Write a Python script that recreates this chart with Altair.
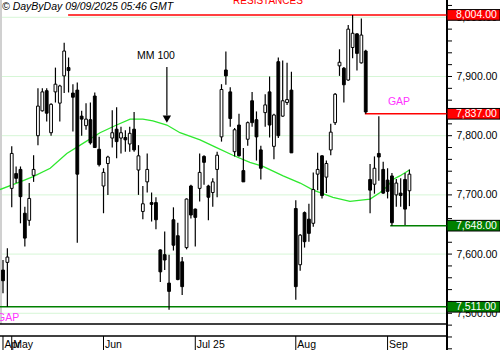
import altair as alt
import pandas as pd

# ---- data (CAC 40 style daily candles, 29 Apr -> 8 Sep 2025) ----
open_ = [7573, 7586, 7711, 7736, 7743, 7669, 7657, 7733, 7800, 7842,
         7876, 7805, 7874, 7855, 7901, 7915, 7872, 7877, 7833, 7817,
         7827, 7867, 7777, 7715, 7753, 7796, 7811, 7796, 7797, 7786,
         7811, 7742, 7672, 7722, 7687, 7687, 7607, 7599, 7551, 7658,
         7631, 7587, 7611, 7715, 7676, 7711, 7765, 7715, 7704, 7743,
         7798, 7911, 7874, 7773, 7818, 7741, 7794, 7859, 7827, 7776,
         7839, 7874, 7782, 7925, 7833, 7856, 7877, 7677, 7582, 7670,
         7659, 7652, 7735, 7766, 7730, 7776, 7822, 7918, 7914, 7894,
         7949, 7972, 7923, 7943, 7726, 7718, 7770, 7743, 7725, 7732,
         7700, 7703, 7726, 7707]
high = [7590, 7610, 7782, 7748, 7748, 7680, 7720, 7767, 7880, 7880,
        7880, 7855, 7915, 7886, 7957, 7932, 7887, 7890, 7842, 7855,
        7856, 7873, 7798, 7745, 7766, 7843, 7848, 7815, 7809, 7815,
        7840, 7784, 7715, 7770, 7704, 7696, 7608, 7638, 7599, 7679,
        7653, 7595, 7694, 7717, 7677, 7770, 7767, 7717, 7728, 7773,
        7887, 7942, 7882, 7813, 7837, 7779, 7824, 7874, 7841, 7783,
        7870, 7900, 7837, 7932, 7927, 7923, 7908, 7691, 7634, 7672,
        7685, 7738, 7771, 7767, 7758, 7820, 7872, 7946, 7916, 7987,
        8004, 7973, 7998, 7945, 7752, 7765, 7833, 7756, 7745, 7737,
        7727, 7728, 7737, 7743]
low = [7534, 7511, 7679, 7720, 7652, 7613, 7648, 7722, 7784, 7841,
       7824, 7800, 7856, 7824, 7872, 7873, 7807, 7619, 7800, 7810,
       7785, 7779, 7748, 7669, 7700, 7780, 7762, 7770, 7773, 7773,
       7773, 7700, 7659, 7704, 7655, 7642, 7553, 7573, 7506, 7606,
       7556, 7531, 7608, 7660, 7613, 7689, 7717, 7657, 7680, 7696,
       7790, 7886, 7815, 7765, 7765, 7722, 7783, 7815, 7758, 7726,
       7815, 7797, 7760, 7796, 7832, 7852, 7771, 7523, 7572, 7611,
       7621, 7646, 7708, 7694, 7703, 7767, 7818, 7901, 7856, 7893,
       7931, 7910, 7922, 7837, 7669, 7702, 7724, 7702, 7694, 7648,
       7680, 7680, 7649, 7681]
close = [7555, 7595, 7770, 7728, 7697, 7627, 7694, 7743, 7850, 7874,
         7838, 7853, 7887, 7884, 7943, 7910, 7865, 7735, 7828, 7828,
         7788, 7780, 7751, 7738, 7764, 7805, 7790, 7805, 7793, 7804,
         7776, 7766, 7685, 7743, 7684, 7658, 7570, 7590, 7537, 7615,
         7557, 7545, 7693, 7666, 7662, 7738, 7755, 7696, 7722, 7767,
         7878, 7901, 7829, 7810, 7766, 7722, 7822, 7822, 7798, 7745,
         7852, 7818, 7835, 7800, 7859, 7861, 7771, 7545, 7632, 7621,
         7635, 7709, 7743, 7699, 7753, 7806, 7870, 7924, 7886, 7980,
         7973, 7939, 7970, 7840, 7708, 7745, 7764, 7703, 7706, 7653,
         7720, 7699, 7676, 7735]

# 100-day moving average (position in trading days, value)
ma_pos = [-0.7, 3.9, 6.9, 10.8, 14.6, 18.3, 22.2, 26, 29.1, 32, 34.3, 37.5, 40.5,
          45.1, 48.5, 52.6, 56.5, 59.5, 64.1, 68, 71, 75.5, 79.4, 84, 86.3,
          87.9, 89.2, 90.8, 93]
ma_val = [7709, 7722, 7731, 7745, 7770, 7787, 7805, 7818, 7828, 7828, 7825, 7818, 7805,
          7793, 7781, 7767, 7755, 7748, 7732, 7720, 7708, 7696, 7689, 7693, 7704,
          7714, 7726, 7732, 7742]

# month labels on the date axis (trading-day index of first session)
month_labels = ["Apr", "May", "Jun", "Jul 25", "Aug", "Sep"]
month_pos = [0, 2, 23, 44, 67, 88]

# support / resistance levels
level_vals = [8004, 7837, 7648, 7511]
level_from = [14.9, 82.8, 88.6, -0.7]
level_col = ["#ff0000", "#ff0000", "#008000", "#008000"]
level_text = ["8,004.00", "7,837.00", "7,648.00", "7,511.00"]

# price axis
grid_levels = [7500, 7600, 7700, 7800, 7900, 8000]
grid_text = ["7,500.00", "7,600.00", "7,700.00", "7,800.00", "7,900.00", "8,000.00"]
tick_levels = list(range(7440, 8021, 20))

# ---- tables ----
candles = pd.DataFrame({"i": list(range(len(open_))), "open": open_, "high": high,
                        "low": low, "close": close})
candles["up"] = candles["close"] >= candles["open"]
ma = pd.DataFrame({"i": ma_pos, "v": ma_val})
months = pd.DataFrame({"i": month_pos, "label": month_labels})
levels = pd.DataFrame({"v": level_vals, "start": level_from, "col": level_col,
                       "txt": level_text})
grid = pd.DataFrame({"v": grid_levels, "txt": grid_text})
ticks = pd.DataFrame({"v": tick_levels})

W, H = 447, 350
xs = alt.Scale(domain=[-0.686, 101.6], nice=False, zero=False)
ys = alt.Scale(domain=[7438.0, 8029.2], nice=False, zero=False)
FONT = "Liberation Sans"

gridl = alt.Chart(grid).mark_rule(color="#d6f6d6", strokeWidth=1).encode(
    x=alt.value(0), x2=alt.value(W),
    y=alt.Y("v:Q", scale=ys, axis=None))

axis_line = alt.Chart(grid).mark_rule(color="black", strokeWidth=1.2).encode(
    x=alt.value(W), y=alt.value(0), y2=alt.value(H))

axis_ticks = alt.Chart(ticks).mark_rule(color="black", strokeWidth=1).encode(
    x=alt.value(W), x2=alt.value(W + 5),
    y=alt.Y("v:Q", scale=ys, axis=None))

axis_text = alt.Chart(grid).mark_text(
    align="left", baseline="middle", font=FONT, fontSize=10.5, color="black", dy=0.5
).encode(x=alt.value(456.5), y=alt.Y("v:Q", scale=ys, axis=None), text="txt:N")

border = alt.Chart(grid).mark_rule(color="#d0d0d0", strokeWidth=2).encode(
    x=alt.value(1), y=alt.value(0), y2=alt.value(324))

level_lines = alt.Chart(levels).mark_rule(strokeWidth=1.5).encode(
    x=alt.X("start:Q", scale=xs, axis=None), x2=alt.value(W),
    y=alt.Y("v:Q", scale=ys, axis=None),
    color=alt.Color("col:N", scale=None, legend=None))

ma_line = alt.Chart(ma).mark_line(color="#2ee82e", strokeWidth=1.3).encode(
    x=alt.X("i:Q", scale=xs, axis=None), y=alt.Y("v:Q", scale=ys, axis=None))

wicks = alt.Chart(candles).mark_rule(color="black", strokeWidth=1.2).encode(
    x=alt.X("i:Q", scale=xs, axis=None),
    y=alt.Y("low:Q", scale=ys, axis=None), y2="high:Q")

bodies = alt.Chart(candles).transform_calculate(
    x0="datum.i - 0.32", x1="datum.i + 0.32"
).mark_rect(stroke="black", strokeWidth=1).encode(
    x=alt.X("x0:Q", scale=xs, axis=None), x2="x1:Q",
    y=alt.Y("open:Q", scale=ys, axis=None), y2="close:Q",
    fill=alt.condition("datum.up", alt.value("white"), alt.value("black")))

boxes = alt.Chart(levels).transform_calculate(
    y0="datum.v + 9", y1="datum.v - 9"
).mark_rect(stroke="black", strokeWidth=1).encode(
    x=alt.value(W), x2=alt.value(500),
    y=alt.Y("y0:Q", scale=ys, axis=None), y2="y1:Q",
    fill=alt.Color("col:N", scale=None, legend=None))

box_text = alt.Chart(levels).mark_text(
    align="left", baseline="middle", font=FONT, fontSize=10.5, color="white", dy=0.5
).encode(x=alt.value(456), y=alt.Y("v:Q", scale=ys, axis=None), text="txt:N")

# bottom date axis
bottom_lines = alt.Chart(pd.DataFrame({"yy": [324, 336]})).mark_rule(
    color="black", strokeWidth=1.5).encode(
    x=alt.value(0), x2=alt.value(W), y=alt.Y("yy:Q", scale=None))

month_ticks = alt.Chart(months).mark_rule(color="black", strokeWidth=1).encode(
    x=alt.X("i:Q", scale=xs, axis=None), y=alt.value(336), y2=alt.value(350))

month_text = alt.Chart(months).mark_text(
    align="left", baseline="alphabetic", font=FONT, fontSize=10.5, color="black", dx=1.5
).encode(x=alt.X("i:Q", scale=xs, axis=None), y=alt.value(347.5), text="label:N")


# annotations
def label(txt, x, y, color="black", size=10.5, align="left", style="normal"):
    return alt.Chart(pd.DataFrame({"t": [txt]})).mark_text(
        align=align, baseline="alphabetic", font=FONT, fontSize=size, color=color,
        fontStyle=style).encode(x=alt.value(x), y=alt.value(y), text="t:N")


header = label("\u00a9 DayByDay 09/09/2025  05:46 GMT", 2, 10, style="italic", size=10.5)
resist = label("RESISTANCES", 268, 4, color="#ff0000", size=10, align="center")
mm_txt = label("MM 100", 156, 59, align="center")
gap1 = label("GAP", 399, 105, color="#ff33ff", align="center")
gap2 = label("GAP", -3, 320.5, color="#ff33ff")

arrow = alt.Chart(pd.DataFrame({"i": [37.5], "a": [7916], "b": [7834]})).mark_rule(
    color="black", strokeWidth=1.2).encode(
    x=alt.X("i:Q", scale=xs, axis=None), y=alt.Y("a:Q", scale=ys, axis=None), y2="b:Q")
arrow_head = alt.Chart(pd.DataFrame({"i": [37.5], "b": [7828]})).mark_point(
    shape="triangle-down", filled=True, color="black", size=70, opacity=1).encode(
    x=alt.X("i:Q", scale=xs, axis=None), y=alt.Y("b:Q", scale=ys, axis=None))

chart = alt.layer(
    gridl, border, axis_line, axis_ticks, axis_text,
    level_lines, ma_line, wicks, bodies, arrow, arrow_head,
    boxes, box_text, bottom_lines, month_ticks, month_text,
    header, resist, mm_txt, gap1, gap2,
).properties(
    width=W, height=H, autosize="none",
    padding={"left": 0, "top": 0, "right": 53, "bottom": 0},
    background="white",
).configure_view(stroke=None)

chart.save("out.html", embed_options={"renderer": "svg", "actions": False})
